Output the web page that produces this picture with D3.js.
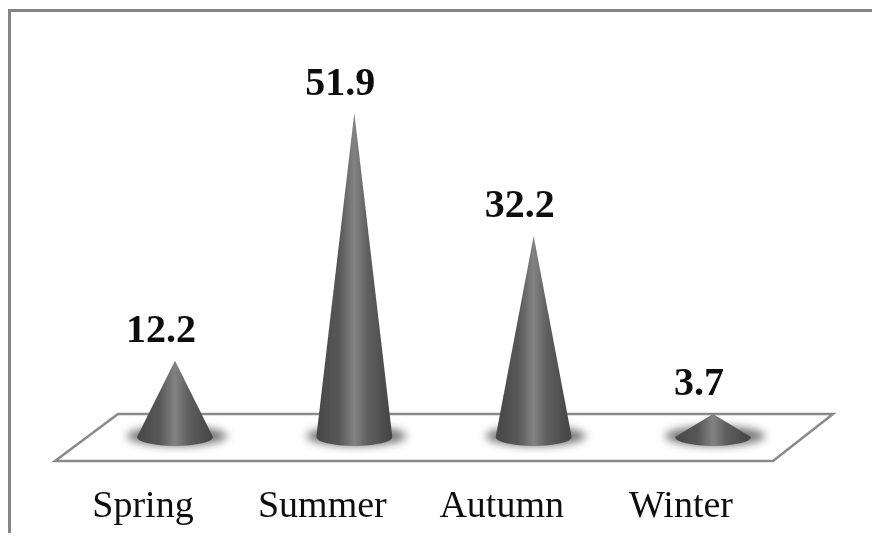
<!DOCTYPE html>
<html>
<head>
<meta charset="utf-8">
<title>Seasons cone chart</title>
<script src="https://d3js.org/d3.v7.min.js"></script>
<style>
    html, body { margin: 0; padding: 0; background: #fff; }
    svg { display: block; }
    text { font-family: "Liberation Serif", serif; fill: #111; }
</style>
</head>
<body>
<div id="chart"></div>
<script>
var seasons = ["Spring", "Summer", "Autumn", "Winter"];
var values = [12.2, 51.9, 32.2, 3.7];
var valueLabels = ["12.2", "51.9", "32.2", "3.7"];

var width = 872, height = 537;

var svg = d3.select("#chart").append("svg")
    .attr("width", width)
    .attr("height", height);

var x = d3.scalePoint().domain(seasons).range([175, 713]);
var y = d3.scaleLinear().domain([0, 51.9]).range([437, 113]);

var halfBase = 38, baseRy = 9;

var defs = svg.append("defs");

var grad = defs.append("linearGradient").attr("id", "coneFill");
[[0, "#474747"], [0.3, "#585858"], [0.5, "#828282"], [0.68, "#5e5e5e"], [1, "#444"]].forEach(function(s) {
    grad.append("stop").attr("offset", s[0]).attr("stop-color", s[1]);
});

defs.append("filter").attr("id", "soft")
    .attr("x", "-30%").attr("y", "-60%").attr("width", "160%").attr("height", "220%")
  .append("feGaussianBlur").attr("stdDeviation", 4);

// the reference is a soft jpeg, so take the edges off a little
defs.append("filter").attr("id", "jpeg")
    .attr("filterUnits", "userSpaceOnUse")
    .attr("x", 0).attr("y", 0).attr("width", width).attr("height", height)
  .append("feGaussianBlur").attr("stdDeviation", 0.5);

var g = svg.append("g").attr("filter", "url(#jpeg)");

// frame, top and left sides only
g.append("path")
    .attr("d", "M9.5,533V10.5H" + width)
    .attr("fill", "none")
    .attr("stroke", "#858585")
    .attr("stroke-width", 3);

// floor
g.append("path")
    .attr("d", "M55,461L118,414H833L773,461Z")
    .attr("fill", "#fff")
    .attr("stroke", "#8a8a8a")
    .attr("stroke-width", 2.5);

var cones = g.selectAll(".cone")
    .data(seasons)
    .enter().append("g")
    .attr("class", "cone");

cones.append("ellipse")
    .attr("cx", function(d) { return x(d) + 2; })
    .attr("cy", 436)
    .attr("rx", halfBase + 12)
    .attr("ry", baseRy + 1)
    .attr("fill", "#777")
    .attr("filter", "url(#soft)");

cones.append("path")
    .attr("fill", "url(#coneFill)")
    .attr("d", function(d, i) {
        var cx = x(d), top = y(values[i]), base = y(0);
        return "M" + cx + "," + top +
            "L" + (cx + halfBase) + "," + base +
            "A" + halfBase + "," + baseRy + " 0 0 1 " + (cx - halfBase) + "," + base + "Z";
    });

g.selectAll(".value")
    .data(seasons)
    .enter().append("text")
    .attr("class", "value")
    .attr("x", function(d) { return x(d) - 14; })
    .attr("y", function(d, i) { return y(values[i]) - 18.5; })
    .attr("text-anchor", "middle")
    .attr("font-size", 40)
    .attr("font-weight", "bold")
    .text(function(d, i) { return valueLabels[i]; });

g.selectAll(".season")
    .data(seasons)
    .enter().append("text")
    .attr("class", "season")
    .attr("x", function(d) { return x(d) - 32; })
    .attr("y", 517)
    .attr("text-anchor", "middle")
    .attr("font-size", 38)
    .text(function(d) { return d; });
</script>
</body>
</html>
